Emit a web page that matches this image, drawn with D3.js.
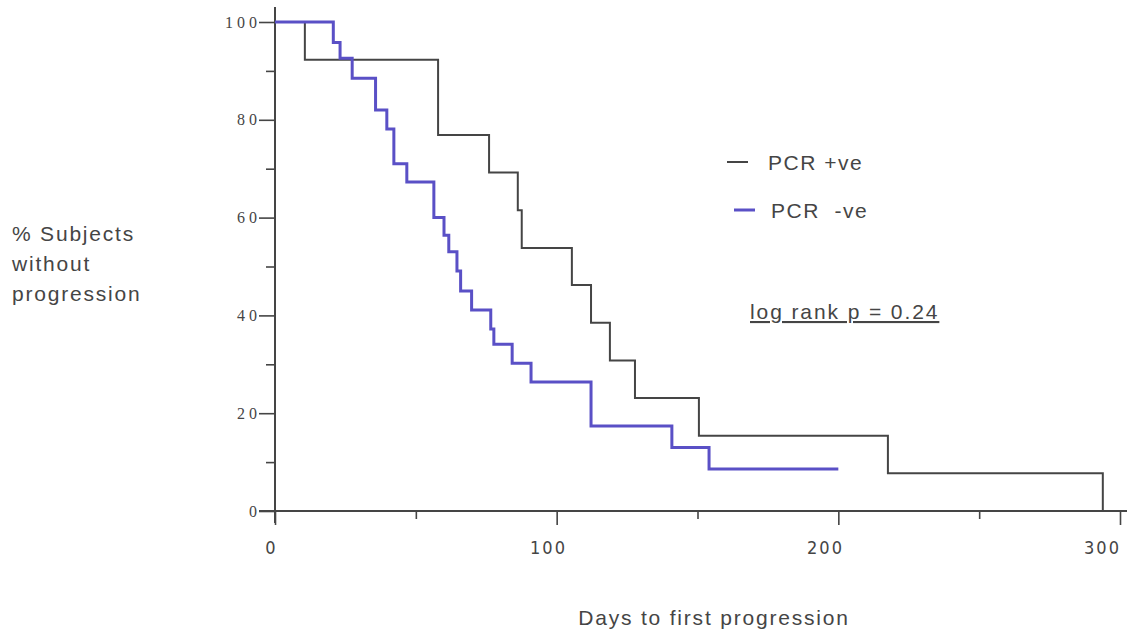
<!DOCTYPE html>
<html>
<head>
<meta charset="utf-8">
<script src="https://cdn.jsdelivr.net/npm/d3@7"></script>
<style>
  body { margin: 0; background: #fff; }
  svg { display: block; }
</style>
</head>
<body>
<svg id="chart" width="1127" height="635"></svg>
<script>
// Kaplan-Meier curves
const posDays = [0, 10.6, 57.9, 76, 86.2, 87.6, 105.4, 112.2, 118.9, 127.8, 150.5, 217.6, 293.9];
const posPct = [100, 92.3, 76.9, 69.2, 61.5, 53.8, 46.2, 38.5, 30.8, 23.1, 15.4, 7.7, 0];

const negDays = [0, 20.7, 23.1, 27.4, 35.7, 39.7, 42.2, 46.8, 56.4, 60.0, 61.7, 64.6, 65.9, 69.8, 76.6, 77.7, 84.2, 90.9, 112.2, 140.9, 154.1, 200];
const negPct = [100, 95.8, 92.6, 88.5, 82.0, 78.1, 71.0, 67.3, 60.0, 56.4, 53.0, 49.1, 45.0, 41.1, 37.2, 34.1, 30.2, 26.4, 17.4, 13.0, 8.6, 8.6];

const xMajor = [0, 100, 200, 300];
const xMinor = [50, 150, 250];
const yMajor = [0, 20, 40, 60, 80, 100];
const yMinor = [10, 30, 50, 70, 90];

const legendLabels = ['PCR +ve', 'PCR  -ve'];
const statText = 'log rank p = 0.24';

const ink = '#454545';
const blue = '#5a50c6';

const svg = d3.select('#chart');

const x = d3.scaleLinear().domain([0, 300]).range([275, 1120]);
const y = d3.scaleLinear().domain([0, 100]).range([511, 22]);
// tick labels sit a little left of their ticks in the original
const xLab = d3.scaleLinear().domain([0, 300]).range([271, 1102]);

// y axis: major ticks with labels, minor ticks without
const yAxisG = svg.append('g').attr('transform', `translate(${x(0)},0)`);
yAxisG.call(d3.axisLeft(y).tickValues(yMajor).tickSize(16).tickPadding(-2).tickFormat(d => d));
yAxisG.call(g => g.select('.domain').remove());
yAxisG.selectAll('text')
  .attr('fill', ink)
  .style('font-family', '"Liberation Serif", "DejaVu Serif", serif')
  .style('font-size', '16px')
  .style('letter-spacing', '4px');
yAxisG.selectAll('line').attr('stroke', ink).attr('stroke-width', 1.6);

const yMinorG = svg.append('g').attr('transform', `translate(${x(0)},0)`);
yMinorG.call(d3.axisLeft(y).tickValues(yMinor).tickSize(9).tickFormat(''));
yMinorG.call(g => g.select('.domain').remove());
yMinorG.selectAll('line').attr('stroke', ink).attr('stroke-width', 1.6);

// x axis ticks
const xAxisG = svg.append('g').attr('transform', `translate(0,${y(0)})`);
xAxisG.call(d3.axisBottom(x).tickValues(xMajor).tickSize(14).tickFormat(''));
xAxisG.call(g => g.select('.domain').remove());
xAxisG.selectAll('line').attr('stroke', ink).attr('stroke-width', 1.6);

const xMinorG = svg.append('g').attr('transform', `translate(0,${y(0)})`);
xMinorG.call(d3.axisBottom(x).tickValues(xMinor).tickSize(8).tickFormat(''));
xMinorG.call(g => g.select('.domain').remove());
xMinorG.selectAll('line').attr('stroke', ink).attr('stroke-width', 1.6);

// x tick labels
const xLabG = svg.append('g').attr('transform', `translate(0,${y(0) + 27})`);
xLabG.call(d3.axisBottom(xLab).tickValues(xMajor).tickSize(0).tickFormat(d => d));
xLabG.call(g => g.select('.domain').remove());
xLabG.selectAll('text')
  .attr('fill', ink)
  .style('font-family', '"Liberation Sans Narrow", "DejaVu Sans Condensed", sans-serif')
  .style('font-size', '18px')
  .style('letter-spacing', '2px');

// axis lines
svg.append('line')
  .attr('x1', x(0)).attr('x2', x(0))
  .attr('y1', 7).attr('y2', y(0) + 12)
  .attr('stroke', ink).attr('stroke-width', 2);
svg.append('line')
  .attr('x1', x(0) - 16).attr('x2', 1127)
  .attr('y1', y(0)).attr('y2', y(0))
  .attr('stroke', ink).attr('stroke-width', 2);

// step curves
const line = d3.line()
  .x(d => x(d[0]))
  .y(d => y(d[1]))
  .curve(d3.curveStepAfter);

svg.append('path')
  .datum(d3.zip(posDays, posPct))
  .attr('d', line)
  .attr('fill', 'none')
  .attr('stroke', ink)
  .attr('stroke-width', 2);

svg.append('path')
  .datum(d3.zip(negDays, negPct))
  .attr('d', line)
  .attr('fill', 'none')
  .attr('stroke', blue)
  .attr('stroke-width', 3);

// legend
const font = '"Liberation Sans", Arial, sans-serif';
const legend = [
  { label: legendLabels[0], color: ink, lx: 727, tx: 768, y: 162, w: 2 },
  { label: legendLabels[1], color: blue, lx: 734, tx: 771, y: 210, w: 3 }
];
legend.forEach(l => {
  svg.append('line')
    .attr('x1', l.lx).attr('x2', l.lx + 21)
    .attr('y1', l.y).attr('y2', l.y)
    .attr('stroke', l.color).attr('stroke-width', l.w);
  svg.append('text')
    .attr('x', l.tx).attr('y', l.y + 8)
    .attr('fill', ink)
    .style('font-family', font)
    .style('font-size', '21px')
    .style('letter-spacing', '1.5px')
    .style('white-space', 'pre')
    .text(l.label);
});

svg.append('text')
  .attr('x', 750).attr('y', 319)
  .attr('fill', ink)
  .style('font-family', font)
  .style('font-size', '21px')
  .style('letter-spacing', '1.9px')
  .style('text-decoration', 'underline')
  .text(statText);

// axis titles
const yTitle = svg.append('text')
  .attr('fill', ink)
  .style('font-family', font)
  .style('font-size', '21px')
  .style('letter-spacing', '1.8px');
['% Subjects', 'without', 'progression'].forEach((t, i) => {
  yTitle.append('tspan').attr('x', 12).attr('y', 241 + i * 30).text(t);
});

svg.append('text')
  .attr('x', 714).attr('y', 625)
  .attr('text-anchor', 'middle')
  .attr('fill', ink)
  .style('font-family', font)
  .style('font-size', '21px')
  .style('letter-spacing', '1.8px')
  .text('Days to first progression');
</script>
</body>
</html>
